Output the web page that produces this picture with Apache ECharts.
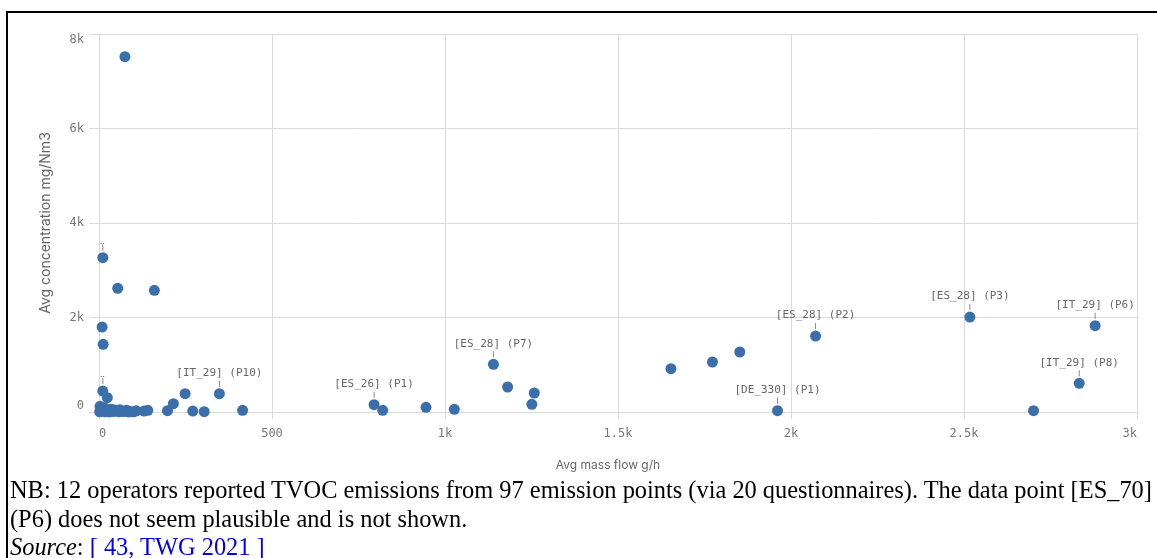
<!DOCTYPE html>
<html>
<head>
<meta charset="utf-8">
<script src="https://cdn.jsdelivr.net/npm/echarts@6/dist/echarts.min.js"></script>
<style>
  html, body { margin: 0; padding: 0; background: #fff; }
  body { width: 1157px; height: 558px; position: relative; overflow: hidden; }
  #frame { position: absolute; left: 6px; top: 11px; width: 1200px; height: 600px;
           border-left: 2px solid #000; border-top: 2px solid #000; box-sizing: border-box; }
  #chart { position: absolute; left: 0; top: 0; width: 1157px; height: 558px; }
  #caption { position: absolute; left: 10px; top: 476px; width: 1150px;
             font-family: "Liberation Serif", "Times New Roman", serif; font-size: 24.4px;
             line-height: 28.5px; color: #000; white-space: nowrap; }
  #caption a { color: #0000ee; text-decoration: none; }
</style>
</head>
<body>
<div id="frame"></div>
<div id="chart"></div>
<div id="caption">
  <div>NB: 12 operators reported TVOC emissions from 97 emission points (via 20 questionnaires). The data point [ES_70]</div>
  <div>(P6) does not seem plausible and is not shown.</div>
  <div><i>Source</i>: <a>[ 43, TWG 2021 ]</a></div>
</div>
<script>
// Avg mass flow (g/h)
const massFlow = [
  75, 54, 160, 9, 12, 24, 249, 215, 141, 198, 271, 304, 415,
  820, 945, 1027, 1181, 1258, 1251, 1653, 1773, 1852, 2701,
  3, 6, 10, 15, 20, 28, 35, 42, 50, 58, 65, 72, 80, 90, 100, 108, 2, 5, 18, 30, 45, 60, 85, 130,
  1140, 795, 348, 2071, 1961, 2517, 2879, 2833, 11, 11
];
// Avg concentration (mg/Nm3)
const concentration = [
  7520, 2617, 2575, 1798, 1432, 303, 388, 176, 35, 28, 20, 7, 35,
  35, 99, 56, 529, 402, 163, 916, 1058, 1270, 28,
  120, 60, 20, 90, 45, 15, 60, 10, 30, 5, 20, 8, 35, 10, 5, 25, 5, 30, 5, 2, 40, 50, 2, 20,
  1009, 155, 388, 1608, 28, 2010, 1826, 607, 3265, 444
];
// Point labels ('' = none, '‥' = truncated label)
const pointLabels = [
  '', '', '', '', '', '', '', '', '', '', '', '', '',
  '', '', '', '', '', '', '', '', '', '',
  '', '', '', '', '', '', '', '', '', '', '', '', '', '', '', '', '', '', '', '', '', '', '', '',
  '[ES_28] (P7)', '[ES_26] (P1)', '[IT_29] (P10)', '[ES_28] (P2)', '[DE_330] (P1)',
  '[ES_28] (P3)', '[IT_29] (P6)', '[IT_29] (P8)', '‥', '‥'
];
const xTicks = [0, 500, 1000, 1500, 2000, 2500, 3000];
const yTicks = [0, 2000, 4000, 6000, 8000];

const data = massFlow.map((x, i) => ({ value: [x, concentration[i]], lbl: pointLabels[i] }));

const mono = '"DejaVu Sans Mono", monospace';
const sans = 'Inter, "Noto Sans", sans-serif';
const gridColor = '#dadada';

const chart = echarts.init(document.getElementById('chart'), null, { renderer: 'canvas' });
chart.setOption({
  backgroundColor: 'transparent',
  animation: false,
  grid: { left: 99, right: 20, top: 34, bottom: 146, containLabel: false },
  xAxis: {
    type: 'value', min: xTicks[0], max: xTicks[xTicks.length - 1], interval: 500,
    name: 'Avg mass flow g/h', nameLocation: 'middle', nameGap: 47,
    nameTextStyle: { fontFamily: sans, fontSize: 12, color: '#666', padding: [0, 20, 0, 0] },
    axisLine: { show: true, lineStyle: { color: gridColor } },
    axisTick: { show: true, length: 7, lineStyle: { color: gridColor } },
    splitLine: { show: true, lineStyle: { color: gridColor } },
    axisLabel: {
      fontFamily: mono, fontSize: 12, color: '#777', margin: 16,
      alignMinLabel: 'left', alignMaxLabel: 'right',
      formatter: v => v < 1000 ? String(v) : (v / 1000) + 'k'
    }
  },
  yAxis: {
    type: 'value', min: yTicks[0], max: yTicks[yTicks.length - 1], interval: 2000,
    name: 'Avg concentration mg/Nm3', nameLocation: 'middle', nameGap: 46,
    nameTextStyle: { fontFamily: sans, fontSize: 14, color: '#666' },
    axisLine: { show: true, lineStyle: { color: gridColor } },
    axisTick: { show: true, length: 10, lineStyle: { color: gridColor } },
    splitLine: { show: true, lineStyle: { color: gridColor } },
    axisLabel: {
      fontFamily: mono, fontSize: 12, color: '#777', margin: 15,
      verticalAlignMinLabel: 'bottom', verticalAlignMaxLabel: 'top',
      formatter: v => v === 0 ? '0' : (v / 1000) + 'k'
    }
  },
  series: [{
    type: 'scatter',
    data: data,
    symbol: 'circle',
    symbolSize: 11,
    itemStyle: { color: '#3b6fab', opacity: 1 },
    label: {
      show: true, position: 'top', distance: 1,
      formatter: p => {
        const l = p.data.lbl;
        if (!l) return '';
        if (l === '‥') return '{e|‥}\n{l| }';
        return '{t|' + l + '}\n{l| }';
      },
      rich: {
        t: { fontFamily: mono, fontSize: 11, color: '#666', lineHeight: 14, align: 'center' },
        e: { fontFamily: mono, fontSize: 9, color: '#666', lineHeight: 6, align: 'center' },
        l: { width: 1, height: 6, lineHeight: 7, backgroundColor: '#888', align: 'center', fontSize: 1 }
      }
    },
    labelLayout: { hideOverlap: false }
  }]
});
</script>
</body>
</html>
